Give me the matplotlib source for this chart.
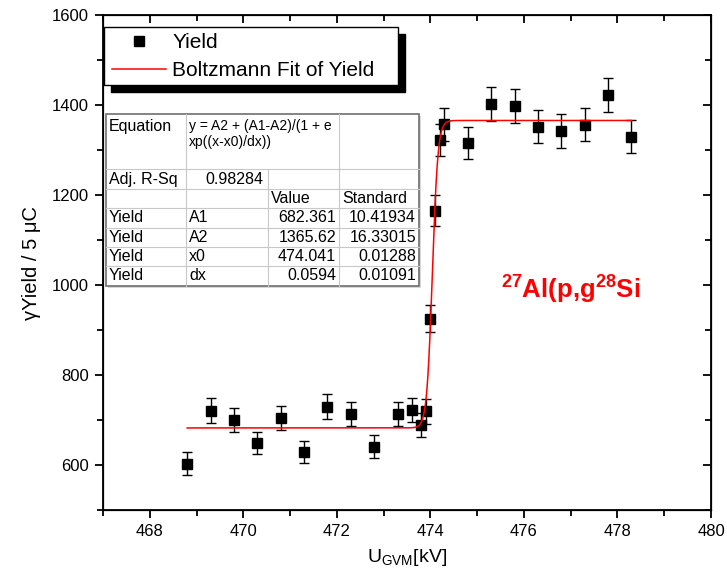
import numpy as np
import matplotlib
matplotlib.use('Agg')
import matplotlib.pyplot as plt
from matplotlib.patches import Rectangle

plt.rcParams['font.family'] = ['Liberation Sans', 'DejaVu Sans']
plt.rcParams['mathtext.fontset'] = 'custom'
plt.rcParams['mathtext.rm'] = 'Liberation Sans'
plt.rcParams['mathtext.it'] = 'Liberation Sans'
plt.rcParams['mathtext.bf'] = 'Liberation Sans:bold'

# measured yield
u_gvm = [468.8, 469.3, 469.8, 470.3, 470.8, 471.3, 471.8, 472.3, 472.8, 473.3,
         473.6, 473.8, 473.9, 474.0, 474.1, 474.2, 474.3, 474.8, 475.3, 475.8,
         476.3, 476.8, 477.3, 477.8, 478.3]
yld = [603, 721, 700, 649, 704, 629, 730, 713, 641, 713,
       723, 689, 719, 925, 1165, 1322, 1357, 1316, 1402, 1398,
       1352, 1342, 1356, 1422, 1330]
yld_err = [25, 27, 26, 25, 27, 25, 27, 27, 25, 27,
           27, 26, 27, 30, 34, 36, 37, 36, 37, 37,
           37, 37, 37, 38, 37]

# Boltzmann fit parameters (from the fit table)
A1, A2, x0, dx = 682.361, 1365.62, 474.041, 0.0594
fit_rows = [['Yield', 'A1', '682.361', '10.41934'],
            ['Yield', 'A2', '1365.62', '16.33015'],
            ['Yield', 'x0', '474.041', '0.01288'],
            ['Yield', 'dx', '0.0594', '0.01091']]
adj_r2 = '0.98284'

W, H = 727, 586
fig = plt.figure(figsize=(W / 100, H / 100), dpi=100)
ax = fig.add_axes([103 / W, 1 - 510 / H, (711 - 103) / W, (510 - 15) / H])

xf = np.linspace(min(u_gvm), max(u_gvm), 2000)
yf = A2 + (A1 - A2) / (1 + np.exp((xf - x0) / dx))
ax.errorbar(u_gvm, yld, yerr=yld_err, fmt='none', ecolor='k', elinewidth=1,
            capsize=3.8, capthick=1, zorder=2)
ax.plot(u_gvm, yld, 's', color='k', ms=7.5, label='Yield', zorder=3)
ax.plot(xf, yf, '-', color='red', lw=1.1, label='Boltzmann Fit of Yield', zorder=4)

xmaj = np.arange(468, 481, 2)
xmin = np.arange(467, 481, 1)
ymaj = np.arange(600, 1601, 200)
ymin = np.arange(500, 1601, 100)

ax.set_xlim(467, 480)
ax.set_ylim(500, 1600)
ax.set_xticks(xmaj)
ax.set_xticks(xmin, minor=True)
ax.set_yticks(ymaj)
ax.set_yticks(ymin, minor=True)
ax.tick_params(which='both', direction='out', width=1.3, labelsize=12, pad=4)
ax.tick_params(which='major', length=6)
ax.tick_params(which='minor', length=4)
for s in ax.spines.values():
    s.set_linewidth(1.3)

# inward ticks on top and right
axt = ax.twiny()
axt.set_xlim(ax.get_xlim())
axt.set_xticks(xmaj)
axt.set_xticks(xmin, minor=True)
axt.tick_params(which='both', direction='in', width=1.3, labeltop=False)
axt.tick_params(which='major', length=6)
axt.tick_params(which='minor', length=4)
axr = ax.twinx()
axr.set_ylim(ax.get_ylim())
axr.set_yticks(ymaj)
axr.set_yticks(ymin, minor=True)
axr.tick_params(which='both', direction='in', width=1.3, labelright=False)
axr.tick_params(which='major', length=6)
axr.tick_params(which='minor', length=4)

ax.set_xlabel(r'U$_{\mathrm{GVM}}$[kV]', fontsize=14, labelpad=6)
ax.set_ylabel('\u03b3Yield / 5 \u03bcC', fontsize=14.5, labelpad=8)

ax.text(0.654, 0.445, r'$\mathbf{^{27}Al(p{,}g^{28}Si}$', color='red',
        fontsize=18.5, transform=ax.transAxes, ha='left', va='center')

# overlay in pixel coordinates for legend box and fit table
ov = fig.add_axes([0, 0, 1, 1], facecolor='none')
ov.set_xlim(0, W)
ov.set_ylim(H, 0)
ov.axis('off')

# legend frame with Origin-style shadow
ov.add_patch(Rectangle((111, 34), 294, 58, facecolor='k', edgecolor='k'))
ov.add_patch(Rectangle((104, 27), 294, 58, facecolor='white', edgecolor='k', lw=1))
handles, labels = ax.get_legend_handles_labels()
ov.legend(handles, labels, loc='upper left', bbox_to_anchor=(110 / W, 1 - 31 / H),
          bbox_transform=fig.transFigure, frameon=False, fontsize=15,
          handlelength=2.6, handletextpad=0.3, labelspacing=0.42,
          borderaxespad=0, borderpad=0.1)

# fit table
tl, tr, ttop, tbot = 106, 419, 114, 285.6
cols = [106, 186, 268, 339, 419]
rows = [114, 169.3, 189.3, 208.3, 227.6, 247, 266.3, 285.6]
ov.add_patch(Rectangle((tl + 2, ttop + 2), tr - tl, tbot - ttop,
                       facecolor='#d8d8d8', edgecolor='none'))
ov.add_patch(Rectangle((tl, ttop), tr - tl, tbot - ttop,
                       facecolor='white', edgecolor='#6e6e6e', lw=1.2))
for r in rows[1:-1]:
    ov.plot([tl, tr], [r, r], color='#c8c8c8', lw=0.8)
ov.plot([cols[1], cols[1]], [ttop, tbot], color='#c8c8c8', lw=0.8)
ov.plot([cols[2], cols[2]], [rows[1], tbot], color='#c8c8c8', lw=0.8)
ov.plot([cols[3], cols[3]], [ttop, tbot], color='#c8c8c8', lw=0.8)

fs = 11.5
ov.text(cols[0] + 3, rows[0] + 13, 'Equation', fontsize=fs, va='center')
ov.text(cols[1] + 3, rows[0] + 5, 'y = A2 + (A1-A2)/(1 + e\nxp((x-x0)/dx))',
        fontsize=10, va='top', linespacing=1.2)
ov.text(cols[0] + 3, (rows[1] + rows[2]) / 2, 'Adj. R-Sq', fontsize=fs, va='center')
ov.text(cols[2] - 5, (rows[1] + rows[2]) / 2, adj_r2, fontsize=fs, va='center', ha='right')
ov.text(cols[2] + 3, (rows[2] + rows[3]) / 2, 'Value', fontsize=fs, va='center')
ov.text(cols[3] + 3, (rows[2] + rows[3]) / 2, 'Standard', fontsize=fs, va='center')
for i, row in enumerate(fit_rows):
    yc = (rows[3 + i] + rows[4 + i]) / 2
    ov.text(cols[0] + 3, yc, row[0], fontsize=fs, va='center')
    ov.text(cols[1] + 3, yc, row[1], fontsize=fs, va='center')
    ov.text(cols[3] - 3, yc, row[2], fontsize=fs, va='center', ha='right')
    ov.text(cols[4] - 3, yc, row[3], fontsize=fs, va='center', ha='right')

fig.savefig('out.png', dpi=100)
